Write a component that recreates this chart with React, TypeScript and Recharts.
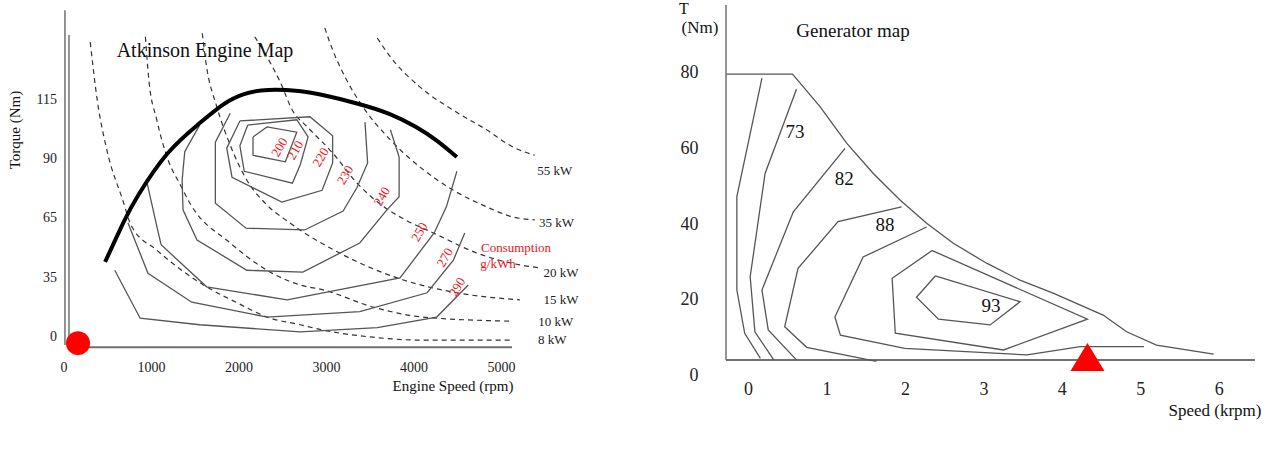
import React from "react";
import { LineChart, Line, XAxis, YAxis, ReferenceLine, ReferenceDot } from "recharts";

type Pt = [number, number];

// ---- Atkinson engine map: x = engine speed (rpm), y = row of the torque scale ----
const engineSpeedTicks = [0, 1000, 2000, 3000, 4000, 5000];
const torqueRows = [0, 1, 2, 3, 4];
const torqueLabels = ["0", "35", "65", "90", "115"];

const maxTorque: Pt[] = [
  [470, 1.25], [700, 1.99], [810, 2.3], [1180, 3.14], [1550, 3.59], [1820, 3.93],
  [2050, 4.1], [2320, 4.17], [2700, 4.14], [2960, 4.07], [3350, 3.93], [3730, 3.76],
  [4030, 3.53], [4260, 3.31], [4490, 3.02],
];

// fuel consumption contours (g/kWh)
const bsfc200: Pt[] = [[2160, 3.36], [2320, 3.53], [2660, 3.44], [2530, 2.94], [2160, 3.05], [2160, 3.36]];
const bsfc210: Pt[] = [
  [2100, 3.56], [2660, 3.65], [2790, 3.36], [2700, 2.89], [2610, 2.58], [2060, 2.78], [2010, 3.21], [2100, 3.56],
];
const bsfc220: Pt[] = [
  [2010, 3.63], [2810, 3.7], [3070, 3.38], [3070, 2.92], [2950, 2.46], [2490, 2.26], [1920, 2.68], [1860, 3.17], [2010, 3.63],
];
const bsfc230: Pt[] = [
  [1900, 3.76], [1730, 3.27], [1730, 2.24], [2080, 1.82], [2750, 1.79], [3190, 2.11], [3350, 2.51], [3470, 2.92], [3440, 3.61],
];
const bsfc240: Pt[] = [
  [1550, 3.56], [1380, 3.11], [1350, 2.63], [1360, 2.13], [1520, 1.62], [2090, 1.11], [2730, 1.08],
  [3380, 1.57], [3690, 2.13], [3830, 2.35], [3830, 3.02], [3730, 3.48],
];
const bsfc250: Pt[] = [
  [950, 2.58], [1070, 1.79], [1110, 1.54], [1630, 0.83], [2550, 0.61], [3840, 0.98], [4230, 1.74], [4370, 2.18], [4490, 2.78],
];
const bsfc270: Pt[] = [
  [730, 1.91], [960, 1.06], [1460, 0.57], [2320, 0.32], [3380, 0.41], [4150, 0.73], [4450, 1.28], [4580, 1.74],
];
const bsfc290: Pt[] = [
  [580, 1.11], [870, 0.3], [1550, 0.19], [2700, 0.07], [3580, 0.14], [4260, 0.32], [4620, 0.86],
];

// constant power curves
const power8: Pt[] = [
  [300, 4.96], [380, 3.98], [490, 3.14], [670, 2.3], [770, 1.86], [1060, 1.45], [1630, 0.83], [1980, 0.56],
  [2320, 0.32], [2700, 0.19], [2960, 0.1], [3530, -0.02], [4100, -0.07], [5120, -0.07],
];
const power10: Pt[] = [
  [930, 5.05], [970, 4.32], [1060, 3.65], [1190, 2.97], [1330, 2.55], [1440, 2.24], [1900, 1.57], [2320, 1.11],
  [2700, 0.86], [2960, 0.78], [3530, 0.49], [4100, 0.32], [5120, 0.25],
];
const power15: Pt[] = [
  [1580, 5.11], [1630, 4.54], [1740, 3.9], [1900, 3.22], [2090, 2.63], [2300, 2.24], [2580, 1.91], [3150, 1.4],
  [3870, 0.95], [4490, 0.73], [5210, 0.61],
];
const power20: Pt[] = [
  [2180, 5.05], [2320, 4.71], [2470, 4.29], [2610, 3.81], [2780, 3.53], [3070, 3.09], [3350, 2.58], [3610, 2.23],
  [3900, 1.96], [4220, 1.74], [4720, 1.4], [5210, 1.2], [5440, 1.15],
];
const power35: Pt[] = [
  [2980, 5.2], [3070, 4.83], [3230, 4.32], [3420, 3.86], [3730, 3.31], [4070, 2.85], [4450, 2.46], [4830, 2.18],
  [5130, 2.01], [5380, 1.96],
];
const power55: Pt[] = [[3580, 5.03], [3730, 4.71], [4070, 4.2], [4450, 3.81], [4830, 3.48], [5130, 3.19], [5380, 3.05]];

const bsfcTags = ["200", "210", "220", "230", "240", "250", "270", "290"];
const bsfcTagAt: Pt[] = [
  [2460, 3.19], [2640, 3.14], [2930, 3.02], [3210, 2.72], [3630, 2.36], [4060, 1.76], [4350, 1.33], [4490, 0.83],
];
const powerTags = ["55 kW", "35 kW", "20 kW", "15 kW", "10 kW", "8 kW"];
const powerTagAt: Pt[] = [[5610, 2.8], [5630, 1.92], [5680, 1.08], [5680, 0.61], [5620, 0.24], [5580, -0.05]];
const enginePoint: Pt = [160, -0.12];

// ---- Generator map: x = speed (krpm), y = torque (Nm) ----
const genSpeedTicks = [0, 1, 2, 3, 4, 5, 6];
const genTorqueTicks = [0, 20, 40, 60, 80];

const genEnvelope: Pt[] = [
  [-0.28, 79.3], [0.56, 79.3], [0.91, 70.7], [1.25, 61.1], [1.59, 53.1], [1.93, 46.1], [2.27, 40.0],
  [2.61, 34.7], [3.04, 29.4], [3.46, 25.0], [3.89, 21.5], [4.23, 18.4], [4.52, 15.8], [4.82, 11.4],
  [5.2, 7.9], [5.93, 5.5],
];
const genEff1: Pt[] = [[0.17, 78.2], [-0.15, 47.0], [-0.15, 22.4], [-0.05, 11.0], [0.15, 4.4]];
const genEff2: Pt[] = [[0.61, 75.3], [0.21, 53.1], [0.02, 25.9], [0.08, 11.4], [0.32, 4.0]];
const genEff3: Pt[] = [[1.23, 59.7], [0.57, 43.0], [0.17, 22.4], [0.25, 11.9], [0.61, 4.0]];
const genEff4: Pt[] = [[1.95, 44.3], [1.14, 40.4], [0.63, 28.1], [0.46, 12.7], [0.74, 7.3], [1.63, 3.6]];
const genEff5: Pt[] = [
  [2.27, 39.0], [1.46, 31.1], [1.1, 15.3], [1.17, 10.5], [1.99, 7.0], [3.55, 5.3], [4.23, 7.5], [5.04, 7.5],
];
const genEff6: Pt[] = [[2.34, 32.8], [4.32, 14.7], [3.25, 6.6], [1.87, 11.0], [1.83, 25.5], [2.34, 32.8]];
const genEff7: Pt[] = [[2.38, 26.1], [3.46, 19.3], [3.08, 13.2], [2.42, 14.7], [2.14, 20.5], [2.38, 26.1]];

const genTags = ["73", "82", "88", "93"];
const genTagAt: Pt[] = [[0.59, 64.3], [1.22, 51.9], [1.74, 39.8], [3.09, 18.4]];
const generatorPoint: Pt = [4.32, 4.5];

const toData = (pts: Pt[]) => pts.map(([x, y]) => ({ x, y }));

const AXIS = "#707070";
const CONTOUR = "#555";
const FONT = '"Liberation Serif", "Times New Roman", serif';

const bsfcCurves = [bsfc200, bsfc210, bsfc220, bsfc230, bsfc240, bsfc250, bsfc270, bsfc290];
const powerCurves = [power8, power10, power15, power20, power35, power55];
const genCurves = [genEff1, genEff2, genEff3, genEff4, genEff5, genEff6, genEff7];

function Txt(props: { x: number; y: number; size: number; rotate?: number; color?: string; children: React.ReactNode }) {
  const { x, y, size, rotate = 0, color = "#111", children } = props;
  return (
    <div
      style={{
        position: "absolute",
        left: x,
        top: y,
        transform: `translate(-50%, -50%) rotate(${rotate}deg)`,
        fontSize: size,
        color,
        whiteSpace: "nowrap",
        lineHeight: 1,
      }}
    >
      {children}
    </div>
  );
}

function EngineMap() {
  return (
    <LineChart width={600} height={458} margin={{ top: 4.2, right: 28.5, bottom: 74.2, left: 0 }}>
      <XAxis
        type="number"
        dataKey="x"
        domain={[0, 5800]}
        allowDataOverflow
        ticks={engineSpeedTicks}
        interval={0}
        axisLine={false}
        tickLine={false}
        tickSize={0}
        tickMargin={8}
        tick={{ fontSize: 14, fill: "#222" }}
      />
      <YAxis
        type="number"
        domain={[-0.3, 5.6]}
        allowDataOverflow
        ticks={torqueRows}
        interval={0}
        tickFormatter={(v: number) => torqueLabels[v] ?? ""}
        axisLine={false}
        tickLine={false}
        tickSize={0}
        tickMargin={7}
        width={64}
        tick={{ fontSize: 14, fill: "#222" }}
      />
      <ReferenceLine segment={[{ x: 11, y: -0.15 }, { x: 11, y: 5.5 }]} stroke={AXIS} strokeWidth={1.5} />
      <ReferenceLine segment={[{ x: 57, y: -0.19 }, { x: 57, y: 5.08 }]} stroke={AXIS} strokeWidth={1.5} />
      <ReferenceLine segment={[{ x: 57, y: -0.19 }, { x: 5120, y: -0.19 }]} stroke={AXIS} strokeWidth={2} />
      {powerCurves.map((c, i) => (
        <Line
          key={`p${i}`}
          data={toData(c)}
          dataKey="y"
          type="monotone"
          stroke="#333"
          strokeWidth={1.2}
          strokeDasharray="5 4"
          dot={false}
          isAnimationActive={false}
        />
      ))}
      {bsfcCurves.map((c, i) => (
        <Line
          key={`b${i}`}
          data={toData(c)}
          dataKey="y"
          type="linear"
          stroke={CONTOUR}
          strokeWidth={1.3}
          dot={false}
          isAnimationActive={false}
        />
      ))}
      <Line
        data={toData(maxTorque)}
        dataKey="y"
        type="basis"
        stroke="#000"
        strokeWidth={4}
        dot={false}
        isAnimationActive={false}
      />
      {bsfcTags.map((t, i) => (
        <ReferenceDot
          key={`bt${i}`}
          x={bsfcTagAt[i][0]}
          y={bsfcTagAt[i][1]}
          r={0}
          stroke="none"
          label={{ value: t, position: "center", angle: -60, fill: "#e8141e", fontSize: 13 }}
        />
      ))}
      {powerTags.map((t, i) => (
        <ReferenceDot
          key={`pt${i}`}
          x={powerTagAt[i][0]}
          y={powerTagAt[i][1]}
          r={0}
          stroke="none"
          label={{ value: t, position: "center", fill: "#222", fontSize: 13 }}
        />
      ))}
      <ReferenceDot x={enginePoint[0]} y={enginePoint[1]} r={12} fill="#f00" stroke="none" ifOverflow="visible" />
    </LineChart>
  );
}

function GeneratorMap() {
  return (
    <LineChart width={617} height={458} margin={{ top: 3.1, right: 2.9, bottom: 49.2, left: 0 }}>
      <XAxis
        type="number"
        dataKey="x"
        domain={[-0.5, 6.7]}
        allowDataOverflow
        ticks={genSpeedTicks}
        interval={0}
        axisLine={false}
        tickLine={false}
        tickSize={0}
        tickMargin={3}
        tick={{ fontSize: 18, fill: "#222" }}
      />
      <YAxis
        type="number"
        domain={[-1, 98]}
        allowDataOverflow
        ticks={genTorqueTicks}
        interval={0}
        axisLine={false}
        tickLine={false}
        tickSize={0}
        tickMargin={11}
        width={49.4}
        tick={{ fontSize: 18, fill: "#222" }}
      />
      <ReferenceLine segment={[{ x: -0.288, y: 3.95 }, { x: -0.288, y: 97.5 }]} stroke={AXIS} strokeWidth={1.5} />
      <ReferenceLine segment={[{ x: -0.288, y: 3.95 }, { x: 6.456, y: 3.95 }]} stroke={AXIS} strokeWidth={2} />
      <Line
        data={toData(genEnvelope)}
        dataKey="y"
        type="linear"
        stroke={CONTOUR}
        strokeWidth={1.3}
        dot={false}
        isAnimationActive={false}
      />
      {genCurves.map((c, i) => (
        <Line
          key={`g${i}`}
          data={toData(c)}
          dataKey="y"
          type="linear"
          stroke={CONTOUR}
          strokeWidth={1.3}
          dot={false}
          isAnimationActive={false}
        />
      ))}
      {genTags.map((t, i) => (
        <ReferenceDot
          key={`gt${i}`}
          x={genTagAt[i][0]}
          y={genTagAt[i][1]}
          r={0}
          stroke="none"
          label={{ value: t, position: "center", fill: "#111", fontSize: 19 }}
        />
      ))}
      <ReferenceDot
        x={generatorPoint[0]}
        y={generatorPoint[1]}
        ifOverflow="visible"
        shape={(p: { cx?: number; cy?: number }) => {
          const cx = p.cx ?? 0;
          const cy = p.cy ?? 0;
          return <polygon points={`${cx},${cy - 15} ${cx + 17},${cy + 13} ${cx - 17},${cy + 13}`} fill="#f00" />;
        }}
      />
    </LineChart>
  );
}

export default function App() {
  return (
    <div
      style={{
        position: "absolute",
        left: 0,
        top: 0,
        width: 1277,
        height: 458,
        background: "#fff",
        fontFamily: FONT,
        overflow: "hidden",
      }}
    >
      <div style={{ position: "absolute", left: 0, top: 0 }}>
        <EngineMap />
      </div>
      <div style={{ position: "absolute", left: 660, top: 0 }}>
        <GeneratorMap />
      </div>
      <Txt x={205} y={50} size={20}>Atkinson Engine Map</Txt>
      <Txt x={15} y={130} size={15} rotate={-90}>Torque (Nm)</Txt>
      <Txt x={453} y={386} size={15}>Engine Speed (rpm)</Txt>
      <Txt x={516} y={247} size={13} color="#e8141e">Consumption</Txt>
      <Txt x={498} y={263} size={13} color="#e8141e">g/kWh</Txt>
      <Txt x={853} y={30} size={19}>Generator map</Txt>
      <Txt x={684} y={9} size={16}>T</Txt>
      <Txt x={700} y={27} size={17}>(Nm)</Txt>
      <Txt x={1215} y={410} size={17}>Speed (krpm)</Txt>
    </div>
  );
}
